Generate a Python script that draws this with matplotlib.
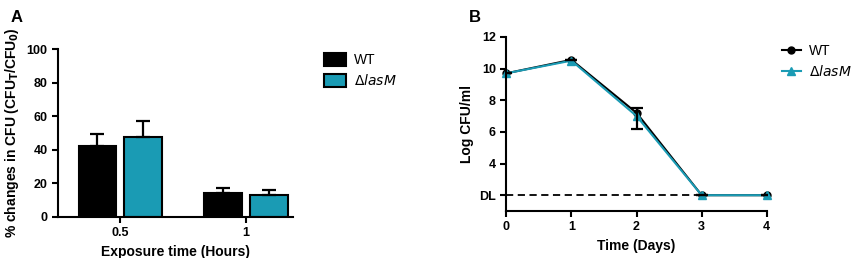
import matplotlib.pyplot as plt
import numpy as np

plt.rcParams['font.family'] = ['Liberation Sans', 'DejaVu Sans']

# panel A data
exposure = ['0.5', '1']
wt_pct = [42.3, 14.3]
wt_pct_err = [7.0, 2.7]
las_pct = [47.4, 13.3]
las_pct_err = [10.0, 2.7]

# panel B data
days = [0, 1, 2, 3, 4]
wt_log = [9.7, 10.55, 7.2, 2.0, 2.0]
las_log = [9.7, 10.5, 7.0, 2.0, 2.0]
wt_err_lo = [0, 0, 1.0, 0, 0]
wt_err_hi = [0, 0, 0.3, 0, 0]
detect_limit = 2.0

cyan = '#1a9bb4'

fig = plt.figure(figsize=(8.51, 2.58), dpi=100)

# ---- panel A ----
axA = fig.add_axes([0.068, 0.159, 0.276, 0.651])
x = np.arange(len(exposure))
w = 0.30
axA.bar(x - 0.178, wt_pct, w, color='black', edgecolor='black', linewidth=1.5, label='WT')
axA.bar(x + 0.182, las_pct, w, color=cyan, edgecolor='black', linewidth=1.5, label=r'$\Delta$$\it{lasM}$')
axA.errorbar(x - 0.178, wt_pct, yerr=[[0, 0], wt_pct_err], fmt='none', ecolor='black',
             elinewidth=1.6, capsize=5, capthick=1.6)
axA.errorbar(x + 0.182, las_pct, yerr=[[0, 0], las_pct_err], fmt='none', ecolor='black',
             elinewidth=1.6, capsize=5, capthick=1.6)
axA.set_xlim(-0.492, 1.373)
axA.set_ylim(0, 100)
axA.set_xticks(x)
axA.set_xticklabels(exposure)
axA.set_yticks([0, 20, 40, 60, 80, 100])
axA.set_xlabel('Exposure time (Hours)', fontsize=10, fontweight='bold', labelpad=4)
axA.set_ylabel(r'% changes in CFU (CFU$_\mathbf{T}$/CFU$_\mathbf{0}$)', fontsize=10, fontweight='bold', labelpad=4)
for lab in axA.get_xticklabels() + axA.get_yticklabels():
    lab.set_fontweight('bold')
axA.tick_params(labelsize=9, width=1.5, length=4)
for s in ['top', 'right']:
    axA.spines[s].set_visible(False)
for s in ['left', 'bottom']:
    axA.spines[s].set_linewidth(1.5)
axA.legend(loc='upper left', bbox_to_anchor=(318 / 851, 1 - 47 / 258), bbox_transform=fig.transFigure,
           borderaxespad=0, frameon=False, fontsize=10,
           handlelength=1.6, handleheight=1.1, handletextpad=0.6, labelspacing=0.45)
fig.text(0.012, 0.96, 'A', fontsize=12, fontweight='bold', va='top')

# ---- panel B ----
axB = fig.add_axes([0.595, 0.182, 0.306, 0.675])
axB.plot([0, 3], [detect_limit, detect_limit], ls='--', color='black', lw=1.3, dashes=(4, 2.5))
axB.plot(days, wt_log, color='black', marker='o', ms=5, lw=1.5, label='WT', clip_on=False)
axB.plot(days, las_log, color=cyan, marker='^', ms=6, lw=1.5, label=r'$\Delta$$\it{lasM}$', clip_on=False)
axB.errorbar(days, wt_log, yerr=[wt_err_lo, wt_err_hi], fmt='none', ecolor='black',
             elinewidth=1.6, capsize=4, capthick=1.6)
axB.set_xlim(0, 4)
axB.set_ylim(1, 12)
axB.set_xticks(days)
axB.set_yticks([2, 4, 6, 8, 10, 12])
axB.set_yticklabels(['DL', '4', '6', '8', '10', '12'])
axB.set_xlabel('Time (Days)', fontsize=10, fontweight='bold', labelpad=4)
axB.set_ylabel('Log CFU/ml', fontsize=10, fontweight='bold', labelpad=4)
for lab in axB.get_xticklabels() + axB.get_yticklabels():
    lab.set_fontweight('bold')
axB.tick_params(labelsize=9, width=1.5, length=4)
for s in ['top', 'right']:
    axB.spines[s].set_visible(False)
for s in ['left', 'bottom']:
    axB.spines[s].set_linewidth(1.5)
axB.legend(loc='upper left', bbox_to_anchor=(776 / 851, 1 - 38 / 258), bbox_transform=fig.transFigure,
           borderaxespad=0, frameon=False, fontsize=10,
           handlelength=1.4, handletextpad=0.6, labelspacing=0.45)
fig.text(0.551, 0.96, 'B', fontsize=12, fontweight='bold', va='top')

fig.savefig('out.png', dpi=100)
